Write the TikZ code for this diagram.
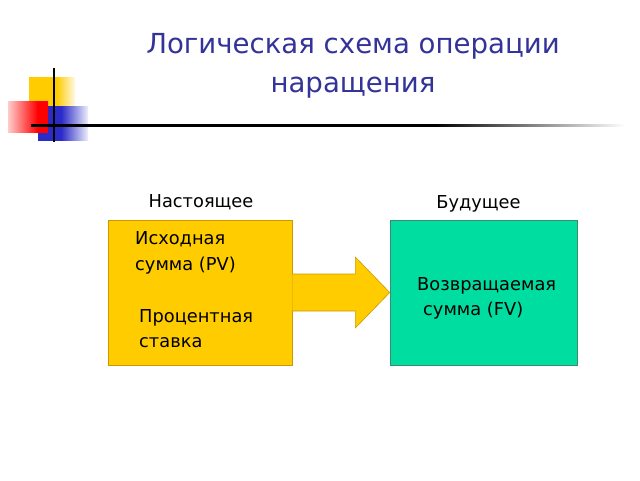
\documentclass[tikz,border=0pt]{standalone}
\usepackage{fontspec}
\setmainfont{DejaVu Sans}
\usetikzlibrary{calc}
\definecolor{titleblue}{HTML}{333399}
\definecolor{boxyellow}{HTML}{FFCC00}
\definecolor{boxyellowline}{HTML}{C89A00}
\definecolor{boxgreen}{HTML}{00DDA0}
\definecolor{boxgreenline}{HTML}{3C8C6E}
\definecolor{logoblue}{HTML}{2B2BC8}
\pgfdeclarehorizontalshading{linefade}{100bp}{color(0bp)=(black); color(59bp)=(black); color(75bp)=(white); color(100bp)=(white)}
\pgfdeclarehorizontalshading{yfade}{100bp}{color(0bp)=(boxyellow); color(55bp)=(boxyellow); color(75bp)=(boxyellow!10); color(100bp)=(boxyellow!10)}
\pgfdeclarehorizontalshading{bfade}{100bp}{color(0bp)=(logoblue); color(48bp)=(logoblue); color(75bp)=(logoblue!8); color(100bp)=(logoblue!8)}
\pgfdeclarehorizontalshading{rfade}{100bp}{color(0bp)=(red!20); color(25bp)=(red!20); color(62bp)=(red); color(100bp)=(red)}
\tikzset{
  titletext/.style={text=titleblue,font=\fontsize{27.6}{32}\selectfont,inner sep=0pt},
  bodytext/.style={text=black,font=\fontsize{17.8}{21}\selectfont,inner sep=0pt,anchor=base west},
  headtext/.style={text=black,font=\fontsize{17.8}{21}\selectfont,inner sep=0pt,anchor=base},
  ybox/.style={draw=boxyellowline,fill=boxyellow,minimum width=184pt,minimum height=145pt,inner sep=0pt,line width=0.6pt},
  gbox/.style={draw=boxgreenline,fill=boxgreen,minimum width=187pt,minimum height=145pt,inner sep=0pt,line width=0.6pt},
}
\begin{document}
\begin{tikzpicture}[x=1pt,y=-1pt]
\useasboundingbox[fill=white] (0,0) rectangle (640,480);
% logo
\shade[shading=yfade] (29,77) rectangle (75,122);
\shade[shading=bfade] (38,106) rectangle (88,140);
\shade[shading=rfade] (8,101) rectangle (48,132);
\draw[line width=1.6pt,black] (54,68) -- (54,142);
\shade[shading=linefade] (31,124) rectangle (625,126.2);
% title
\node[titletext,anchor=base] (t1) at (353,53) {Логическая схема операции};
\node[titletext,anchor=base] (t2) at (353,92) {наращения};
% boxes
\node[ybox] (L) at (200,292.5) {};
\node[gbox] (R) at (483.5,292.5) {};
% arrow
\coordinate (tip) at (R.west);
\filldraw[fill=boxyellow,draw=boxyellowline,line width=0.6pt]
  ($(L.east)+(0,-18.5)$) -- ($(L.east)+(63,-18.5)$) -- ($(L.east)+(63,-35.5)$) -- (tip)
  -- ($(L.east)+(63,35.5)$) -- ($(L.east)+(63,18.5)$) -- ($(L.east)+(0,18.5)$);
% headings
\node[headtext] (h1) at (201,207) {Настоящее};
\node[headtext] (h2) at (478.5,208) {Будущее};
% box texts
\node[bodytext] (a1) at (135,244) {Исходная};
\node[bodytext] (a2) at (135,270) {сумма (PV)};
\node[bodytext] (b1) at (139,322) {Процентная};
\node[bodytext] (b2) at (139,347) {ставка};
\node[bodytext] (c1) at (417,290) {Возвращаемая};
\node[bodytext] (c2) at (423,315) {сумма (FV)};
\end{tikzpicture}
\end{document}
